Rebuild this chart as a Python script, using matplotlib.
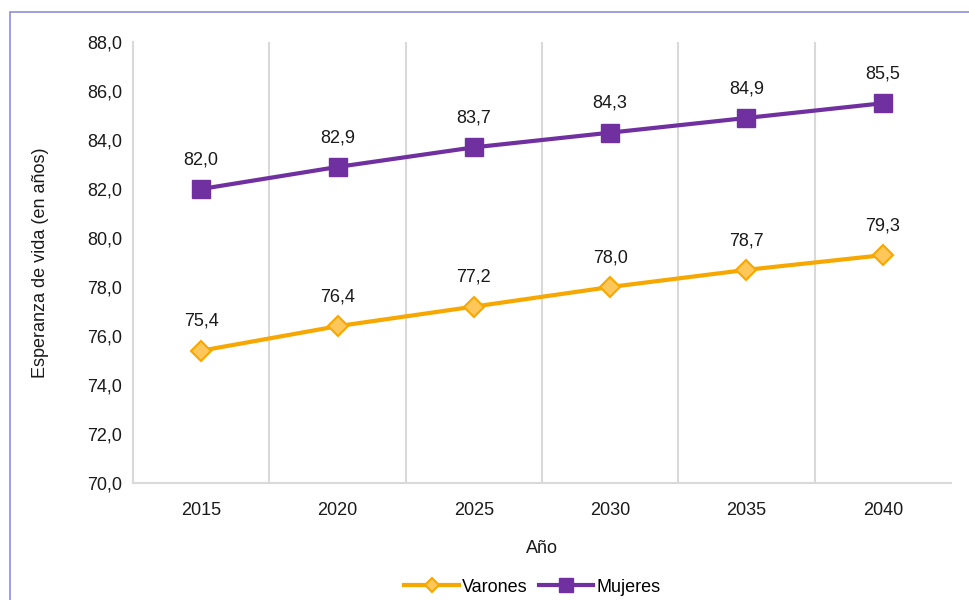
import matplotlib.pyplot as plt
from matplotlib.patches import Rectangle

years = ['2015', '2020', '2025', '2030', '2035', '2040']
varones = [75.4, 76.4, 77.2, 78.0, 78.7, 79.3]
mujeres = [82.0, 82.9, 83.7, 84.3, 84.9, 85.5]
yticks = [70, 72, 74, 76, 78, 80, 82, 84, 86, 88]

plt.rcParams['font.family'] = ['Liberation Sans Narrow', 'Liberation Sans', 'DejaVu Sans']


def fmt(v):
    return ('%.1f' % v).replace('.', ',')


fig = plt.figure(figsize=(9.7, 6.0), dpi=100)
ax = fig.add_axes([133 / 970, 1 - 483 / 600, (951 - 133) / 970, (483 - 42) / 600])

x = list(range(len(years)))
ax.plot(x, varones, color='#F6A800', lw=3, marker='D', ms=10,
        mfc='#FFC65A', mec='#F6A800', mew=1.5, label='Varones', zorder=3)
ax.plot(x, mujeres, color='#7030A0', lw=3, marker='s', ms=12.5,
        mfc='#7030A0', mec='#7030A0', label='Mujeres', zorder=3)

for xi, v in zip(x, varones):
    ax.annotate(fmt(v), (xi, v), xytext=(0, 15), textcoords='offset points',
                ha='center', va='bottom', fontsize=13, color='#1a1a1a')
for xi, v in zip(x, mujeres):
    ax.annotate(fmt(v), (xi, v), xytext=(0, 15), textcoords='offset points',
                ha='center', va='bottom', fontsize=13, color='#1a1a1a')

ax.set_xlim(-0.5, len(years) - 0.5)
ax.set_ylim(70, 88)
ax.set_yticks(yticks)
ax.set_yticklabels([fmt(v) for v in yticks], fontsize=13, color='#1a1a1a')
ax.set_xticks(x)
ax.set_xticklabels(years, fontsize=13, color='#1a1a1a')
ax.set_xticks([i + 0.5 for i in x[:-1]], minor=True)
ax.tick_params(axis='both', which='both', length=0)
ax.tick_params(axis='x', pad=14)
ax.tick_params(axis='y', pad=8)
ax.grid(axis='x', which='minor', color='#D9D9D9', lw=1.5)

for s in ['top', 'right']:
    ax.spines[s].set_visible(False)
ax.spines['left'].set_color('#D9D9D9')
ax.spines['bottom'].set_color('#D9D9D9')
ax.spines['left'].set_linewidth(1.5)
ax.spines['bottom'].set_linewidth(1.5)

ax.set_xlabel('Año', fontsize=13, color='#1a1a1a', labelpad=15)
ax.set_ylabel('Esperanza de vida (en años)', fontsize=13, color='#1a1a1a', labelpad=27)

fig.legend(loc='lower center', bbox_to_anchor=(0.549, -0.02), ncol=2, frameon=False,
           fontsize=13, handlelength=3.0, columnspacing=0.6, handletextpad=0.2,
           markerscale=0.75)

fig.patches.append(Rectangle((10 / 970, -0.1), 1.2, 1.1 - 12 / 600,
                             transform=fig.transFigure, fill=False,
                             edgecolor='#8F8FD8', lw=1.2))

fig.savefig('out.png', dpi=100)
